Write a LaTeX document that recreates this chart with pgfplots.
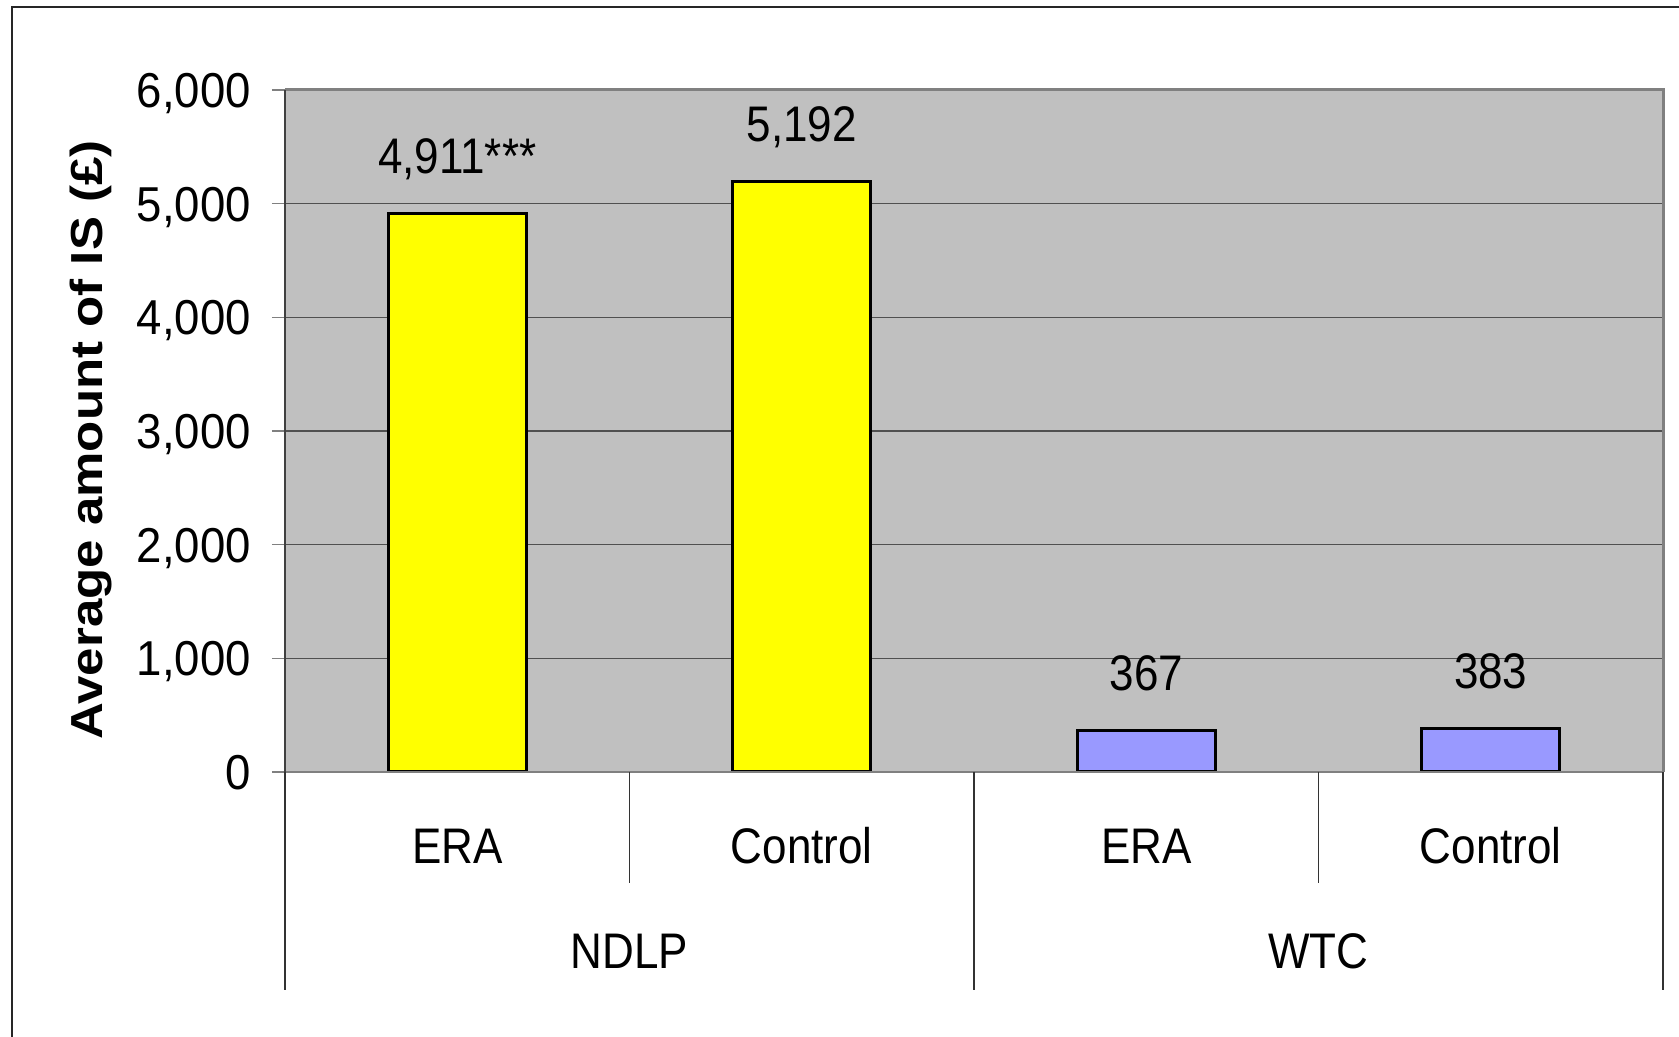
\documentclass[border=0pt]{standalone}
\usepackage{pgfplots}
\pgfplotsset{compat=1.18}
\usepackage{fontspec}
\setmainfont{Liberation Sans}
\newfontfamily\narrowfont[FakeStretch=0.88]{Liberation Sans}
\newfontfamily\tickfont[FakeStretch=0.93]{Liberation Sans}
\definecolor{plotbg}{HTML}{C0C0C0}
\definecolor{gridc}{HTML}{505050}
\definecolor{edgec}{HTML}{808080}
\definecolor{bary}{HTML}{FFFF00}
\definecolor{barb}{HTML}{9999FF}
\begin{document}
\begin{tikzpicture}[x=1pt,y=1pt]
\useasboundingbox (-142.5,-132.5) rectangle (697,386);
% outer frame (left and top edges)
\draw[line width=1pt, color=black!85] (-136.5,-140) -- (-136.5,382.5) -- (705,382.5);
\begin{axis}[
  at={(0,0)}, anchor=south west,
  scale only axis, width=689pt, height=341pt,
  xmin=-0.5, xmax=3.5, ymin=0, ymax=6000,
  ytick={0,1000,...,6000},
  xtick={0,1,2,3},
  xticklabels={ERA,Control,ERA,Control},
  ytick pos=left,
  axis line style={draw=none},
  axis background/.style={fill=plotbg},
  ymajorgrids, grid style={color=gridc, line width=0.6pt},
  tick align=outside,
  ytick style={color=edgec, line width=0.8pt},
  major tick length=6.5pt,
  xtick style={draw=none},
  /pgf/number format/.cd, fixed, precision=0, 1000 sep={,}, assume math mode=true,
  /pgfplots/.cd,
  yticklabel style={font=\tickfont\fontsize{24.5pt}{29pt}\selectfont, anchor=base east, yshift=-8.8pt, xshift=-7pt},
  xticklabel style={font=\narrowfont\fontsize{25pt}{30pt}\selectfont, anchor=base, yshift=-39pt},
  ylabel={\scalebox{1}[0.88]{\bfseries\fontsize{25.5pt}{30pt}\selectfont Average amount of IS (£)}},
  ylabel style={at={(axis description cs:-0.1408,0.487)}, anchor=center},
  ybar, bar width=0.4, bar shift=0pt,
  nodes near coords,
  point meta=explicit symbolic,
  every node near coord/.style={font=\narrowfont\fontsize{25pt}{30pt}\selectfont, anchor=base, yshift=20pt, color=black},
  clip=false,
]
\addplot[fill=bary, draw=black, line width=1.5pt] coordinates {(0,4911)[4,911***] (1,5192)[5,192]};
\addplot[fill=barb, draw=black, line width=1.5pt] coordinates {(2,367)[367] (3,383)[383]};
% plot frame
\draw[color=edgec, line width=1.5pt] (rel axis cs:0,1) -- (rel axis cs:1,1) -- (rel axis cs:1,0);
\draw[color=edgec, line width=1pt] (rel axis cs:0,0) -- (rel axis cs:1,0);
\draw[color=black!75, line width=0.6pt] (rel axis cs:0,0) -- (rel axis cs:0,1);
% category separators below the axis
\draw[color=black!80, line width=0.6pt] (axis cs:0.5,0) -- ([yshift=-55.5pt]axis cs:0.5,0);
\draw[color=black!80, line width=0.6pt] (axis cs:2.5,0) -- ([yshift=-55.5pt]axis cs:2.5,0);
\draw[color=black!80, line width=0.6pt] (axis cs:-0.5,0) -- ([yshift=-109pt]axis cs:-0.5,0);
\draw[color=black!80, line width=0.6pt] (axis cs:1.5,0) -- ([yshift=-109pt]axis cs:1.5,0);
\draw[color=black!80, line width=0.6pt] (axis cs:3.5,0) -- ([yshift=-109pt]axis cs:3.5,0);
% group labels
\node[font=\narrowfont\fontsize{25pt}{30pt}\selectfont, anchor=base] at ([yshift=-98pt]axis cs:0.5,0) {NDLP};
\node[font=\narrowfont\fontsize{25pt}{30pt}\selectfont, anchor=base] at ([yshift=-98pt]axis cs:2.5,0) {WTC};
\end{axis}
\end{tikzpicture}
\end{document}
